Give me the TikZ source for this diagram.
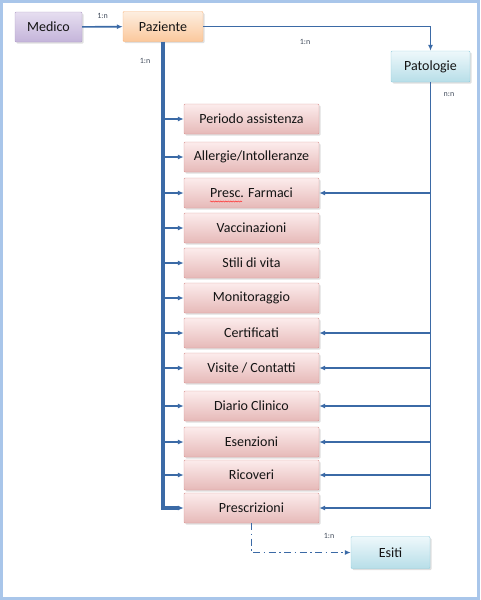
\documentclass[tikz,border=0pt]{standalone}
\usepackage{fontspec}
\setmainfont{Carlito}
\usetikzlibrary{positioning,shadows,arrows.meta,decorations.pathmorphing}

\definecolor{frameblue}{HTML}{A9C6EA}
\definecolor{linkblue}{HTML}{3B6AA6}
\definecolor{labgray}{HTML}{404A5A}
% box colours
\definecolor{medline}{HTML}{B3A2C7}\definecolor{medtop}{HTML}{E6DEF0}\definecolor{medbot}{HTML}{C4B4DA}
\definecolor{pazline}{HTML}{F8B47C}\definecolor{paztop}{HTML}{FDEEE0}\definecolor{pazbot}{HTML}{FBC89C}
\definecolor{patline}{HTML}{93CDDD}\definecolor{pattop}{HTML}{EEF8FB}\definecolor{patbot}{HTML}{B7DEE8}
\definecolor{subline}{HTML}{D99694}\definecolor{subtop}{HTML}{FCECEC}\definecolor{subbot}{HTML}{E6B9B8}

\tikzset{
  box/.style={draw, rounded corners=1pt, inner sep=0pt, minimum height=30pt,
    text=black!92, font=\fontsize{14}{16}\selectfont,
    drop shadow={opacity=0.25, shadow xshift=1.5pt, shadow yshift=-1.5pt}},
  medbox/.style={box, draw=medline, top color=medtop, bottom color=medbot, minimum width=67pt},
  pazbox/.style={box, draw=pazline, top color=paztop, bottom color=pazbot, minimum width=80pt},
  patbox/.style={box, draw=patline, top color=pattop, bottom color=patbot, minimum width=79pt, minimum height=31pt},
  subbox/.style={box, draw=subline, top color=subtop, bottom color=subbot, minimum width=135pt},
  link/.style={draw=linkblue, line width=1.6pt, -{Latex[length=6pt,width=5pt]}},
  trunk/.style={link, line width=3.5pt},
  card/.style={text=labgray, font=\fontsize{8}{9}\selectfont}
}

\begin{document}
\begin{tikzpicture}[x=1pt,y=-1pt]
%      \draw[help lines] (0,0) grid (480,600);
      \useasboundingbox (0,0) rectangle (480,600);
      \draw[frameblue, line width=3pt] (1.5,1.5) rectangle (478.5,598.5);

      \node[medbox] (medico)    at (48.5,27)   {Medico};
      \node[pazbox] (paziente)  at (163,26.5)  {Paziente};
      \node[patbox] (patologie) at (430.5,66.5) {Patologie};
      \node[patbox, minimum height=32pt] (esiti) at (390.5,552.5) {Esiti};

      \foreach \y/\txt [count=\i] in {119/{Periodo assistenza}, 157/{Allergie/Intolleranze},
          193/{Presc. Farmaci}, 228/{Vaccinazioni}, 263/{Stili di vita}, 298/{Monitoraggio},
          333/{Certificati}, 368/{Visite / Contatti}, 406/{Diario Clinico}, 442/{Esenzioni},
          475/{Ricoveri}, 508/{Prescrizioni}}
        \node[subbox] (sub\i) at (251.5,\y) {\txt};

      % spell-check mark under Presc.
      \draw[red!80, line width=0.5pt, decorate, decoration={snake, amplitude=0.6pt, segment length=2.5pt}]
        (210,201.5) -- (242,201.5);

      \draw[link] (medico) -- (paziente) node[card, midway, above=4pt] {1:n};
      \draw[link] (paziente.east) -| (patologie.north);
      \node[card] at (305,42) {1:n};

      \draw[trunk] (paziente.south) |- (sub12.west);
      \node[card] at (145,61) {1:n};
      \foreach \i in {1,...,11}
        \draw[link] (paziente.south |- sub\i.west) -- (sub\i.west);

      \draw[link] (patologie.south) |- (sub12.east);
      \node[card] at (449,95) {n:n};
      \foreach \i in {3,7,8,9,10,11}
        \draw[link] (patologie.south |- sub\i.east) -- (sub\i.east);

      \draw[link, dash pattern=on 7pt off 3.5pt on 1.5pt off 3.5pt] (sub12.south) |- (esiti.west);
      \node[card] at (329,536) {1:n};
\end{tikzpicture}
\end{document}
